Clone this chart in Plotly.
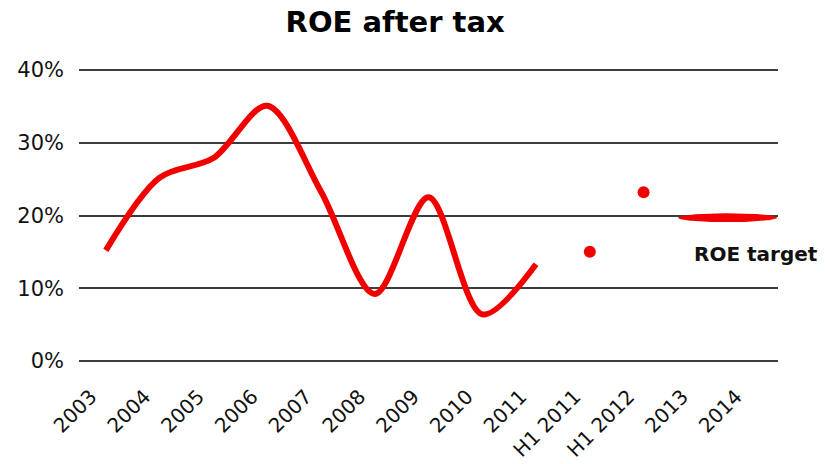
import numpy as np
import plotly.graph_objects as go

# Category labels along the x axis
categories = ["2003", "2004", "2005", "2006", "2007", "2008", "2009",
              "2010", "2011", "H1 2011", "H1 2012", "2013", "2014"]

# Annual ROE after tax (%), 2003-2011
annual_years = ["2003", "2004", "2005", "2006", "2007", "2008", "2009", "2010", "2011"]
annual_roe = [15.2, 25.2, 27.9, 35.1, 23.3, 9.2, 22.5, 6.4, 13.3]

# Half-year ROE (%)
half_year_labels = ["H1 2011", "H1 2012"]
half_year_roe = [15.0, 23.2]

# ROE target band (2013-2014)
target_labels = ["2013", "2014"]
target_roe = 19.7

RED = "#f20000"
GRID = "#3c3c3c"
TEXT = "#111111"

idx = {c: i for i, c in enumerate(categories)}

fig = go.Figure()

# Annual series as a smoothed line
fig.add_trace(go.Scatter(
    x=[idx[c] for c in annual_years], y=annual_roe,
    mode="lines", line=dict(color=RED, width=6, shape="spline", smoothing=0.9),
    hoverinfo="skip", showlegend=False,
))

# Half-year values as dots
fig.add_trace(go.Scatter(
    x=[idx[c] for c in half_year_labels], y=half_year_roe,
    mode="markers", marker=dict(color=RED, size=12),
    hoverinfo="skip", showlegend=False,
))

# Target drawn as a flat ellipse spanning the target years
t = np.linspace(0, 2 * np.pi, 120)
x_lo, x_hi = idx[target_labels[0]] - 0.36, idx[target_labels[1]] + 0.48
cx, rx = (x_lo + x_hi) / 2, (x_hi - x_lo) / 2
ry = 0.62
fig.add_trace(go.Scatter(
    x=cx + rx * np.cos(t), y=target_roe + ry * np.sin(t),
    mode="lines", fill="toself", fillcolor=RED, line=dict(color=RED, width=0),
    hoverinfo="skip", showlegend=False,
))

fig.add_annotation(
    x=cx + 0.53, y=target_roe - 5.0, xref="x", yref="y",
    text="<b>ROE target</b>", showarrow=False,
    font=dict(family="DejaVu Sans", size=20, color=TEXT),
)

fig.update_layout(
    width=825, height=464,
    margin=dict(l=79, r=47, t=69, b=102),
    paper_bgcolor="white", plot_bgcolor="white",
    title=dict(text="<b>ROE after tax</b>", x=0.479, xanchor="center",
               y=0.953, yanchor="middle",
               font=dict(family="DejaVu Sans", size=29, color="#000000")),
    xaxis=dict(
        range=[-0.5, len(categories) - 0.5], automargin=False,
        tickmode="array", tickvals=list(range(len(categories))), ticktext=categories,
        tickangle=-45, showgrid=False, zeroline=False, showline=False,
        ticks="", ticklabelstandoff=18, ticklabelshift=-15,
        tickfont=dict(family="DejaVu Sans", size=20, color=TEXT),
    ),
    yaxis=dict(
        range=[-0.15, 40.15], automargin=False,
        tickmode="linear", tick0=0, dtick=10, ticksuffix="%",
        showgrid=True, gridcolor=GRID, gridwidth=2,
        zeroline=False, showline=False, ticks="",
        ticklabelstandoff=14,
        tickfont=dict(family="DejaVu Sans", size=21, color=TEXT),
    ),
)

fig.write_html("out.html")
